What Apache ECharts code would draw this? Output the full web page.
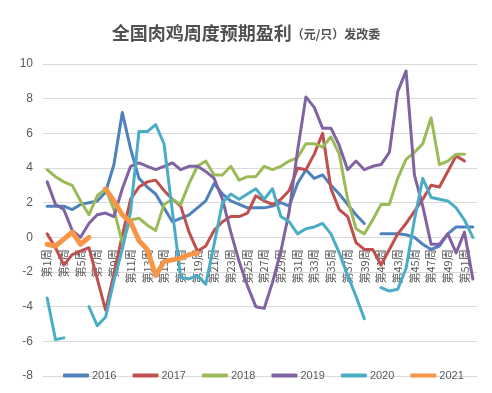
<!DOCTYPE html>
<html>
<head>
<meta charset="utf-8">
<script src="https://cdn.jsdelivr.net/npm/echarts@6/dist/echarts.min.js"></script>
<style>
html,body{margin:0;padding:0;background:#fff;}
#chart{width:492px;height:393px;}
</style>
</head>
<body>
<div id="chart"></div>
<script>
// Categories: weeks 1..52
const weeks = ["第1周","第2周","第3周","第4周","第5周","第6周","第7周","第8周","第9周","第10周",
"第11周","第12周","第13周","第14周","第15周","第16周","第17周","第18周","第19周","第20周",
"第21周","第22周","第23周","第24周","第25周","第26周","第27周","第28周","第29周","第30周",
"第31周","第32周","第33周","第34周","第35周","第36周","第37周","第38周","第39周","第40周",
"第41周","第42周","第43周","第44周","第45周","第46周","第47周","第48周","第49周","第50周",
"第51周","第52周"];

const yearNames = ["2016","2017","2018","2019","2020","2021"];

const y2016 = [1.8,1.8,1.8,1.6,1.9,2.0,2.1,2.6,4.2,7.2,
5.1,3.4,2.9,2.5,1.7,0.9,1.1,1.3,1.7,2.1,
3.1,2.5,2.1,1.9,1.7,1.7,1.7,1.8,2.0,1.8,
3.1,3.9,3.4,3.6,3.0,2.5,1.9,1.3,0.8,null,
0.2,0.2,0.2,0.15,0.0,-0.4,-0.7,-0.5,0.2,0.6,
0.6,0.6];

const y2017 = [0.2,-0.6,-1.6,-1.0,-0.8,-0.6,-2.4,-4.2,-2.1,0.1,
2.2,2.9,3.2,3.3,2.7,2.2,1.8,0.3,-0.8,-0.5,
0.4,0.9,1.2,1.2,1.4,2.4,2.1,1.9,2.2,2.7,
4.0,3.9,4.8,6.0,2.8,1.6,1.2,-0.3,-0.7,-0.7,
-1.6,-0.7,0.2,0.8,1.5,2.2,3.0,2.9,3.8,4.7,
4.4,null];

const y2018 = [3.9,3.5,3.2,3.0,2.1,1.3,2.4,2.8,1.6,-0.3,
1.0,1.1,0.7,0.4,1.9,2.2,1.9,3.1,4.1,4.4,
3.6,3.6,4.1,3.3,3.5,3.5,4.1,3.9,4.1,4.4,
4.6,5.4,5.4,5.2,5.8,4.8,2.2,0.5,0.2,1.0,
1.9,1.9,3.4,4.5,4.9,5.4,6.9,4.2,4.4,4.8,
4.8,null];

const y2019 = [3.2,1.9,1.6,0.4,0.0,0.8,1.3,1.4,1.2,2.8,
4.1,4.3,4.1,3.9,4.1,4.3,3.9,4.1,4.1,3.8,
3.4,2.2,0.3,-1.4,-2.8,-4.0,-4.1,-2.6,-0.8,1.5,
5.0,8.1,7.5,6.3,6.3,5.3,3.9,4.4,3.9,4.1,
4.2,4.9,8.4,9.6,3.6,1.8,-0.4,-0.4,0.2,-0.9,
0.3,-2.4];

const y2020 = [-3.5,-5.9,-5.8,null,null,-4.0,-5.1,-4.6,-2.5,-0.7,
1.5,6.1,6.1,6.5,5.4,1.5,-2.3,-2.4,-2.2,-2.7,
-0.4,2.0,2.5,2.2,2.5,2.8,2.2,2.8,1.2,0.9,
0.2,0.5,0.6,0.8,0.2,-0.9,-2.2,-3.4,-4.7,null,
-2.9,-3.1,-3.0,-1.8,1.0,3.4,2.3,2.2,2.1,1.7,
1.0,0.0];

const y2021 = [-0.4,-0.5,-0.1,0.3,-0.4,0.0,null,2.8,2.1,1.3,
0.9,-0.2,-0.7,-2.2,-1.4,-1.3,-1.2,-1.0,-0.9];

const seriesData = [y2016,y2017,y2018,y2019,y2020,y2021];
const colors = ["#4F81BD","#C0504D","#9BBB59","#8064A2","#4BACC6","#F79646"];
const widths = [3,3,3,3,3,5];

const Y_MIN = -8, Y_MAX = 10;
const GRID_TOP = 64, GRID_BOTTOM = 17, H = 393;
// place the category axis at value 0 (label row sits on the zero line)
const plotH = H - GRID_TOP - GRID_BOTTOM;
const zeroOffset = -plotH * (0 - Y_MIN) / (Y_MAX - Y_MIN);

const chart = echarts.init(document.getElementById('chart'), null, {renderer:'canvas'});
const option = {
  backgroundColor:'#ffffff',
  animation:false,
  color: colors,
  title:{
    text:'{a|全国肉鸡周度预期盈利}{b|（元/只）发改委}',
    left:'center',
    top:19,
    textStyle:{
      rich:{
        a:{fontSize:18,fontWeight:'bold',color:'#505050',fontFamily:'Noto Sans CJK SC'},
        b:{fontSize:12,fontWeight:'bold',color:'#505050',fontFamily:'Noto Sans CJK SC',padding:[3,0,0,0]}
      }
    }
  },
  legend:{
    data:yearNames,
    left:63,
    top:370,
    padding:0,
    itemWidth:26,
    itemHeight:4,
    itemGap:16,
    icon:'roundRect',
    textStyle:{color:'#595959',fontSize:11,fontFamily:'Liberation Sans',padding:[0,0,0,-2]}
  },
  grid:{left:43,right:15,top:GRID_TOP,bottom:GRID_BOTTOM,containLabel:false,outerBoundsMode:'none'},
  xAxis:{
    type:'category',
    data:weeks,
    boundaryGap:true,
    position:'bottom',
    offset:zeroOffset,
    axisLine:{show:false,onZero:false},
    axisTick:{show:false},
    axisLabel:{rotate:90,interval:1,color:'#595959',fontSize:11,margin:12,fontFamily:'Noto Sans CJK SC'},
    splitLine:{show:false}
  },
  yAxis:{
    type:'value',
    min:Y_MIN,max:Y_MAX,interval:2,
    axisLine:{show:false,onZero:false},
    axisTick:{show:false},
    axisLabel:{color:'#595959',fontSize:12,margin:10,fontFamily:'Liberation Sans'},
    splitLine:{lineStyle:{color:'#d9d9d9',width:1}}
  },
  series: yearNames.map((name,i)=>({
    name:name,
    type:'line',
    data:seriesData[i],
    symbol:'none',
    connectNulls:false,
    lineStyle:{width:widths[i],color:colors[i],cap:'round',join:'round'},
    itemStyle:{color:colors[i]},
    z:2+i
  }))
};
chart.setOption(option);
</script>
</body>
</html>
